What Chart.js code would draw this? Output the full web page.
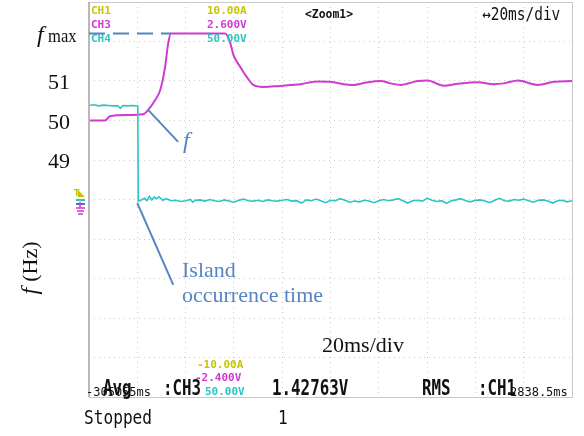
<!DOCTYPE html>
<html lang="en">
<head>
<meta charset="UTF-8">
<title>Islanding - frequency trace</title>
<script src="https://cdn.jsdelivr.net/npm/chart.js"></script>
<style>
  html, body { margin: 0; padding: 0; background: #fff; }
  .wrap { width: 584px; height: 436px; }
</style>
</head>
<body>
<div class="wrap"><canvas id="scope" width="584" height="436"></canvas></div>
<script>
// time axis in ms (20 ms/div), vertical axis read as Hz
const timeMin = 0, timeMax = 200, timeStep = 20;
const freqMin = 43, freqMax = 53, freqStep = 1;
const fMax = 52.2;
const freqLabels = [51, 50, 49];

// CH3 (magenta) - frequency
const ch3Time = [0, 6.6, 8.7, 15.8, 22.4, 24.5, 27.4, 29.5, 31.5, 32.8, 34.0,
  56.4, 58.5, 59.8, 62.7, 65.6, 68.0, 72.2, 78.0, 83.4, 87.6, 94.6, 100, 105.4,
  109.1, 115.4, 120.7, 124.9, 129, 136.1, 140.2, 146.9, 152.7, 161, 167.6, 171.8,
  177.6, 185.9, 192.5, 200];
const ch3Hz = [50.0, 50.0, 50.11, 50.14, 50.16, 50.27, 50.52, 50.77, 51.35, 51.96, 52.2,
  52.2, 51.96, 51.66, 51.35, 51.08, 50.90, 50.85, 50.87, 50.90, 50.92, 50.99, 50.98, 50.92,
  50.90, 50.97, 51.0, 50.94, 50.90, 51.0, 51.01, 50.88, 50.93, 50.97, 50.92, 50.94,
  51.01, 50.90, 50.98, 51.0];

// CH4 (cyan) - inverter voltage, drops at island occurrence
const ch4Time = [0, 2, 4, 6, 8, 10, 12, 13, 14, 16, 18, 20.2, 20.4,
  21.5, 23, 24, 25, 26, 27, 28, 29, 30.5, 32, 34, 36, 38, 40, 42, 43, 44, 46, 48,
  50, 52, 54, 56, 58, 60, 62, 64, 66, 68, 70, 72, 74, 76, 78, 80, 82, 84, 86, 88,
  90, 92, 94, 96, 98, 100, 102, 104, 106, 108, 110, 112, 114, 116, 118, 120, 122,
  124, 126, 128, 130, 132, 134, 136, 138, 140, 142, 144, 146, 148, 150, 152, 154,
  156, 158, 160, 162, 164, 166, 168, 170, 172, 174, 176, 178, 180, 182, 184, 186,
  188, 190, 192, 194, 196, 198, 200];
const ch4Val = [50.38, 50.40, 50.37, 50.39, 50.38, 50.37, 50.37, 50.31, 50.38, 50.37, 50.38, 50.37, 47.96,
  47.98, 48.03, 47.97, 48.08, 47.99, 48.06, 48.02, 48.07, 47.98, 48.02, 47.97, 47.98, 47.95, 47.97, 48.00, 47.93, 47.98, 47.99, 47.96,
  48.00, 47.97, 47.95, 47.99, 47.96, 47.93, 47.98, 48.01, 47.97, 47.96, 47.98, 47.95, 47.99, 47.97, 47.96, 47.98, 48.00, 47.96, 47.97, 47.91,
  47.99, 47.97, 48.01, 47.97, 47.92, 47.98, 47.97, 48.02, 47.98, 47.93, 47.96, 47.94, 47.98, 47.96, 47.92, 47.97, 48.00,
  47.97, 47.99, 48.02, 47.97, 47.91, 47.97, 47.98, 47.96, 48.03, 47.98, 47.95, 47.97, 47.90, 47.97, 47.99, 48.02,
  47.97, 47.94, 47.98, 47.99, 47.96, 47.92, 47.98, 48.03, 47.97, 47.96, 48.00, 47.98, 48.01, 47.97, 47.93, 47.98,
  47.99, 47.96, 47.91, 47.97, 47.98, 47.94, 47.97];

// annotation anchors, in (ms, Hz)
const fPointer = [[24.5, 50.27], [36.9, 49.46]];
const islandPointer = [[20.0, 47.91], [34.9, 45.84]];

const BLUE = '#5585c2';
const YEL = '#c8c400', MAG = '#d03ad0', CYN = '#2ec4c4';

function toPoints(xs, ys) {
  return xs.map((x, i) => ({ x: x, y: ys[i] }));
}

function txt(ctx, s, x, y, font, color, sx, align) {
  ctx.save();
  ctx.font = font;
  ctx.fillStyle = color;
  ctx.textAlign = align || 'left';
  ctx.textBaseline = 'alphabetic';
  ctx.translate(x, y);
  ctx.scale(sx || 1, 1);
  ctx.fillText(s, 0, 0);
  ctx.restore();
}

const scopeDecor = {
  id: 'scopeDecor',
  afterDraw(chart) {
    const ctx = chart.ctx;
    const a = chart.chartArea;
    const xs = chart.scales.x, ys = chart.scales.y;
    const px = v => xs.getPixelForValue(v);
    const py = v => ys.getPixelForValue(v);

    // screen frame
    ctx.save();
    ctx.strokeStyle = '#c8c8c8';
    ctx.lineWidth = 1;
    ctx.strokeRect(a.left + 0.5, a.top + 0.5, a.right - a.left, a.bottom - a.top);
    ctx.strokeStyle = '#b8b8b8';
    ctx.lineWidth = 2;
    ctx.beginPath();
    ctx.moveTo(a.left, a.top);
    ctx.lineTo(a.left, a.bottom);
    ctx.stroke();
    ctx.restore();

    // scope header
    const mono = 'bold 11px "DejaVu Sans Mono"';
    txt(ctx, 'CH1', 91, 14, mono, YEL);
    txt(ctx, 'CH3', 91, 28, mono, MAG);
    txt(ctx, 'CH4', 91, 42, mono, CYN);
    txt(ctx, '10.00A', 207, 14, mono, YEL);
    txt(ctx, '2.600V', 207, 28, mono, MAG);
    txt(ctx, '50.00V', 207, 42, mono, CYN);
    txt(ctx, '<Zoom1>', 305, 18, 'bold 12px "DejaVu Sans Mono"', '#111', 0.95);
    txt(ctx, '\u219420ms/div', 482, 20, '17px "DejaVu Sans Mono"', '#111', 0.85);

    // scope footer
    txt(ctx, '-10.00A', 197, 368, mono, YEL);
    txt(ctx, '-2.400V', 195, 381, mono, MAG);
    txt(ctx, '50.00V', 205, 395, mono, CYN);
    txt(ctx, '-305055ms', 86, 396, '12px "DejaVu Sans Mono"', '#111');
    const big = 'bold 22px "DejaVu Sans Mono"';
    txt(ctx, 'Avg', 103, 395, big, '#111', 0.72);
    txt(ctx, ':CH3', 163, 395, big, '#111', 0.72);
    txt(ctx, '1.42763V', 272, 395, big, '#111', 0.72);
    txt(ctx, 'RMS', 422, 395, big, '#111', 0.72);
    txt(ctx, ':CH1', 478, 395, big, '#111', 0.72);
    txt(ctx, '2838.5ms', 510, 396, '12px "DejaVu Sans Mono"', '#111');
    txt(ctx, 'Stopped', 84, 424, '19px "DejaVu Sans Mono"', '#111', 0.85);
    txt(ctx, '1', 278, 424, '19px "DejaVu Sans Mono"', '#111', 0.85);

    // channel markers at left of the screen
    ctx.save();
    ctx.fillStyle = YEL;
    ctx.beginPath();
    ctx.moveTo(78, 190); ctx.lineTo(85, 197); ctx.lineTo(78, 197); ctx.closePath();
    ctx.fill();
    txt(ctx, 'T', 74, 196, 'bold 8px "DejaVu Sans"', YEL);
    ctx.lineWidth = 2;
    ctx.strokeStyle = CYN;
    ctx.beginPath(); ctx.moveTo(76, 200); ctx.lineTo(85, 200); ctx.stroke();
    ctx.strokeStyle = '#6a5acd';
    ctx.beginPath(); ctx.moveTo(76, 204); ctx.lineTo(85, 204); ctx.stroke();
    ctx.strokeStyle = MAG;
    ctx.lineWidth = 1.5;
    ctx.beginPath();
    ctx.moveTo(80, 202); ctx.lineTo(80, 208);
    ctx.moveTo(76, 208); ctx.lineTo(85, 208);
    ctx.moveTo(77, 211); ctx.lineTo(84, 211);
    ctx.moveTo(78, 214); ctx.lineTo(83, 214);
    ctx.stroke();
    ctx.restore();

    // figure annotations
    const serif = '"Liberation Serif", "Times New Roman", serif';
    ctx.save();
    ctx.strokeStyle = BLUE;
    ctx.lineWidth = 2;
    ctx.setLineDash([16, 8]);
    ctx.beginPath();
    ctx.moveTo(px(timeMin), py(fMax));
    ctx.lineTo(px(34), py(fMax));
    ctx.stroke();
    ctx.setLineDash([]);
    [fPointer, islandPointer].forEach(p => {
      ctx.beginPath();
      ctx.moveTo(px(p[0][0]), py(p[0][1]));
      ctx.lineTo(px(p[1][0]), py(p[1][1]));
      ctx.stroke();
    });
    ctx.restore();

    txt(ctx, 'f', 37, py(fMax) + 8, 'italic 24px ' + serif, '#111');
    txt(ctx, 'max', 48, py(fMax) + 8, '18px ' + serif, '#111', 0.92);
    freqLabels.forEach(v => txt(ctx, String(v), 70, py(v) + 8, '22px ' + serif, '#111', 1, 'right'));

    ctx.save();
    ctx.translate(37, 268);
    ctx.rotate(-Math.PI / 2);
    ctx.font = 'italic 24px ' + serif;
    const wf = ctx.measureText('f ').width;
    ctx.font = '22px ' + serif;
    const wh = ctx.measureText('(Hz)').width;
    txt(ctx, 'f', -(wf + wh) / 2, 0, 'italic 24px ' + serif, '#111');
    txt(ctx, '(Hz)', -(wf + wh) / 2 + wf, 0, '22px ' + serif, '#111');
    ctx.restore();

    txt(ctx, 'f', 183, 148, 'italic 24px ' + serif, BLUE);
    txt(ctx, 'Island', 182, 277, '22px ' + serif, BLUE);
    txt(ctx, 'occurrence time', 182, 302, '22px ' + serif, BLUE);
    txt(ctx, '20ms/div', 322, 352, '22px ' + serif, '#111');
  }
};

const gridStyle = { color: '#cacaca', lineWidth: 1, drawTicks: false };

new Chart(document.getElementById('scope'), {
  type: 'line',
  data: {
    datasets: [
      {
        label: 'CH4',
        data: toPoints(ch4Time, ch4Val),
        borderColor: CYN,
        borderWidth: 1.6,
        pointRadius: 0,
        tension: 0
      },
      {
        label: 'CH3',
        data: toPoints(ch3Time, ch3Hz),
        borderColor: MAG,
        borderWidth: 2,
        pointRadius: 0,
        cubicInterpolationMode: 'monotone'
      }
    ]
  },
  options: {
    responsive: false,
    animation: false,
    events: [],
    layout: { padding: { left: 89, right: 12, top: 2, bottom: 39 } },
    plugins: { legend: { display: false }, tooltip: { enabled: false } },
    scales: {
      x: {
        type: 'linear', min: timeMin, max: timeMax,
        ticks: { display: false, stepSize: timeStep },
        grid: gridStyle,
        border: { display: false, dash: [1, 4] }
      },
      y: {
        type: 'linear', min: freqMin, max: freqMax,
        ticks: { display: false, stepSize: freqStep },
        grid: gridStyle,
        border: { display: false, dash: [1, 4] }
      }
    }
  },
  plugins: [scopeDecor]
});
</script>
</body>
</html>
